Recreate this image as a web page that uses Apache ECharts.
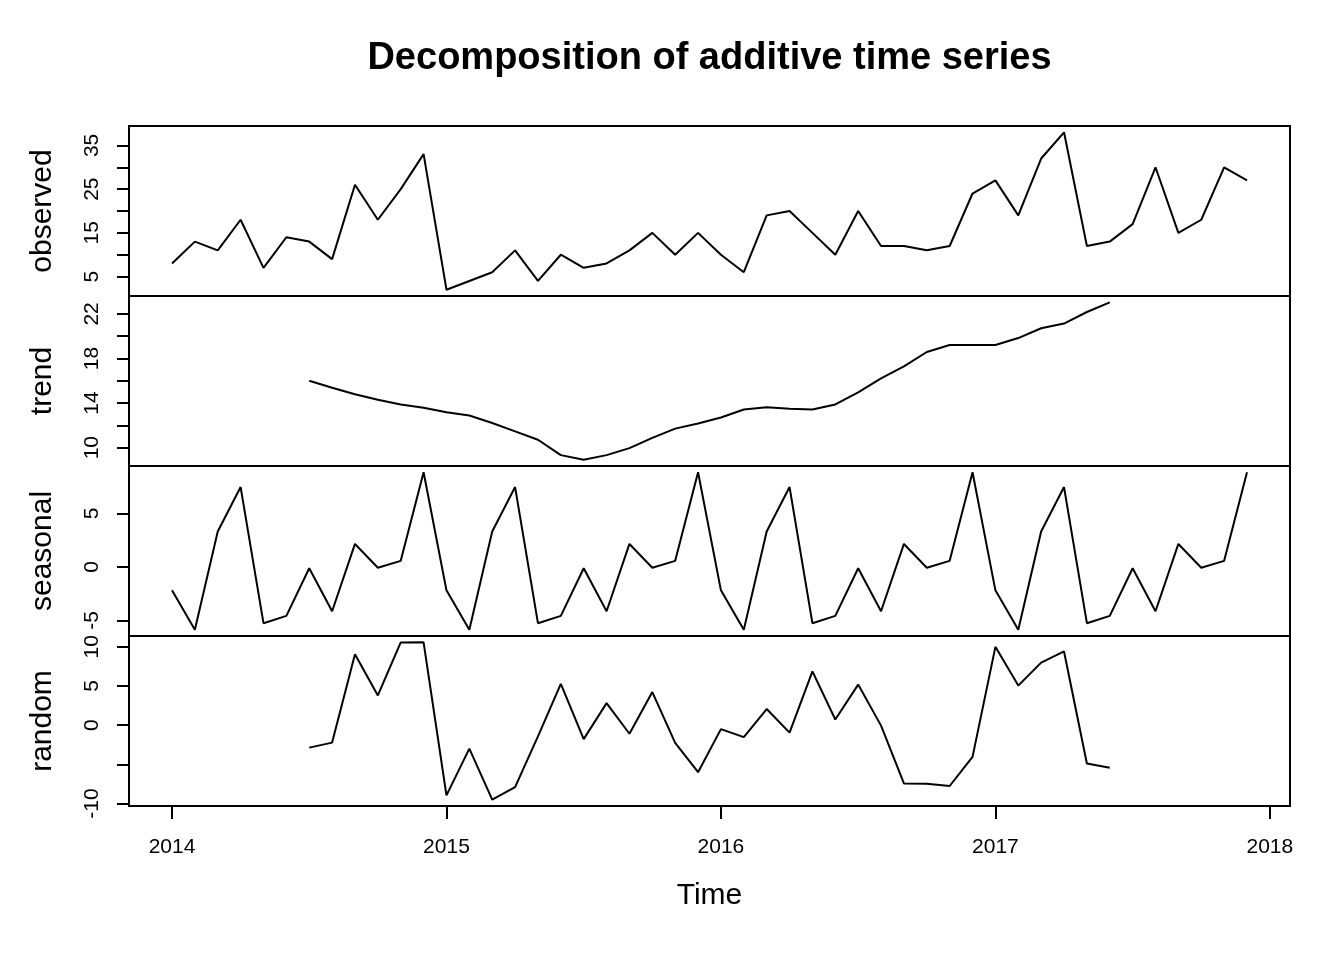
<!DOCTYPE html>
<html>
<head>
<meta charset="utf-8">
<script src="https://cdn.jsdelivr.net/npm/echarts@6/dist/echarts.min.js"></script>
<style>html,body{margin:0;padding:0;background:#fff}#c{width:1344px;height:960px}</style>
</head>
<body>
<div id="c"></div>
<script>
// ---- data (monthly, Jan 2014 .. Dec 2017) ----
var startYear = 2014;
var observed = [8,13,11,18,7,14,13,9,26,18,25,33,
                2,4,6,11,4,10,7,8,11,15,10,15,
                10,6,19,20,15,10,20,12,12,11,12,24,
                27,19,32,38,12,13,17,30,15,18,30,27];
var trend = [null,null,null,null,null,null,
             16.00,15.38,14.79,14.29,13.88,13.58,
             13.17,12.88,12.21,11.46,10.71,9.33,8.92,9.33,9.96,10.88,11.71,12.17,
             12.71,13.42,13.63,13.50,13.42,13.88,14.96,16.21,17.29,18.58,19.21,19.21,
             19.21,19.83,20.71,21.13,22.17,23.04,
             null,null,null,null,null,null];
var seasonal = [-2.20,-5.88,3.31,7.46,-5.27,-4.59,-0.13,-4.15,2.14,-0.09,0.56,8.84,
                -2.20,-5.88,3.31,7.46,-5.27,-4.59,-0.13,-4.15,2.14,-0.09,0.56,8.84,
                -2.20,-5.88,3.31,7.46,-5.27,-4.59,-0.13,-4.15,2.14,-0.09,0.56,8.84,
                -2.20,-5.88,3.31,7.46,-5.27,-4.59,-0.13,-4.15,2.14,-0.09,0.56,8.84];
var random = [null,null,null,null,null,null,
              -2.87,-2.23,9.06,3.80,10.56,10.58,
              -8.96,-2.99,-9.52,-7.92,-1.44,5.26,-1.78,2.81,-1.10,4.22,-2.27,-6.01,
              -0.51,-1.53,2.06,-0.96,6.86,0.72,5.18,-0.06,-7.44,-7.49,-7.77,-4.05,
              10.00,5.05,7.98,9.41,-4.90,-5.45,
              null,null,null,null,null,null];
var panelNames = ['observed','trend','seasonal','random'];
var xTicks = [2014,2015,2016,2017,2018];
var yTicks = [[5,10,15,20,25,30,35],[10,12,14,16,18,20,22],[-5,0,5],[-10,-5,0,5,10]];
var yLabels = [[5,15,25,35],[10,14,18,22],[-5,0,5],[-10,0,5,10]];
var titleText = 'Decomposition of additive time series';
var xName = 'Time';

// ---- build ----
var FONT = '"Liberation Sans", Arial, sans-serif';
var seriesData = [observed, trend, seasonal, random];
var n = observed.length;
var xs0 = startYear, xs1 = startYear + (n - 1) / 12;
var xPad = 0.04 * (xs1 - xs0);
function plain(v) { return String(Math.round(v * 1000) / 1000); }

var grids = [], xAxes = [], yAxes = [], series = [];
var top0 = 126, ph = 170;
for (var p = 0; p < 4; p++) {
  grids.push({left: 129, width: 1161, top: top0 + p * ph, height: ph,
              show: true, borderColor: '#000', borderWidth: 2, backgroundColor: 'transparent'});
  var last = (p === 3);
  xAxes.push({
    gridIndex: p, type: 'value', min: xs0 - xPad, max: xs1 + xPad,
    show: last, position: 'bottom',
    axisLine: {show: false, onZero: false},
    splitLine: {show: false},
    axisTick: {show: last, customValues: xTicks, length: 13, lineStyle: {color: '#000', width: 2}},
    axisLabel: {show: last, customValues: xTicks, formatter: plain, fontSize: 21, color: '#000', fontFamily: FONT, margin: 31},
    name: last ? xName : '', nameLocation: 'middle', nameGap: 75,
    nameTextStyle: {fontSize: 30, color: '#000', fontFamily: FONT}
  });
  var vals = seriesData[p].filter(function (v) { return v !== null; });
  var mn = Math.min.apply(null, vals), mx = Math.max.apply(null, vals);
  var pad = 0.04 * (mx - mn);
  yAxes.push({
    gridIndex: p, type: 'value', min: mn - pad, max: mx + pad, position: 'left',
    axisLine: {show: false, onZero: false},
    splitLine: {show: false},
    axisTick: {show: true, customValues: yTicks[p], length: 12, lineStyle: {color: '#000', width: 2}},
    axisLabel: {customValues: yLabels[p], formatter: plain, rotate: 90, fontSize: 21, color: '#000', fontFamily: FONT, margin: 26},
    name: panelNames[p], nameLocation: 'middle', nameRotate: 90, nameGap: 71,
    nameTextStyle: {fontSize: 30, color: '#000', fontFamily: FONT}
  });
  var data = [];
  for (var i = 0; i < n; i++) data.push([startYear + i / 12, seriesData[p][i]]);
  series.push({
    type: 'line', xAxisIndex: p, yAxisIndex: p, data: data,
    showSymbol: false, connectNulls: false, silent: true,
    lineStyle: {color: '#000', width: 2}
  });
}

var chart = echarts.init(document.getElementById('c'));
chart.setOption({
  animation: false,
  backgroundColor: '#fff',
  graphic: [{type: 'text', x: 709.5, y: 59,
             style: {text: titleText, fontSize: 38, fontWeight: 'bold', fontFamily: FONT,
                     fill: '#000', align: 'center', verticalAlign: 'middle'}}],
  grid: grids, xAxis: xAxes, yAxis: yAxes, series: series
});
</script>
</body>
</html>
